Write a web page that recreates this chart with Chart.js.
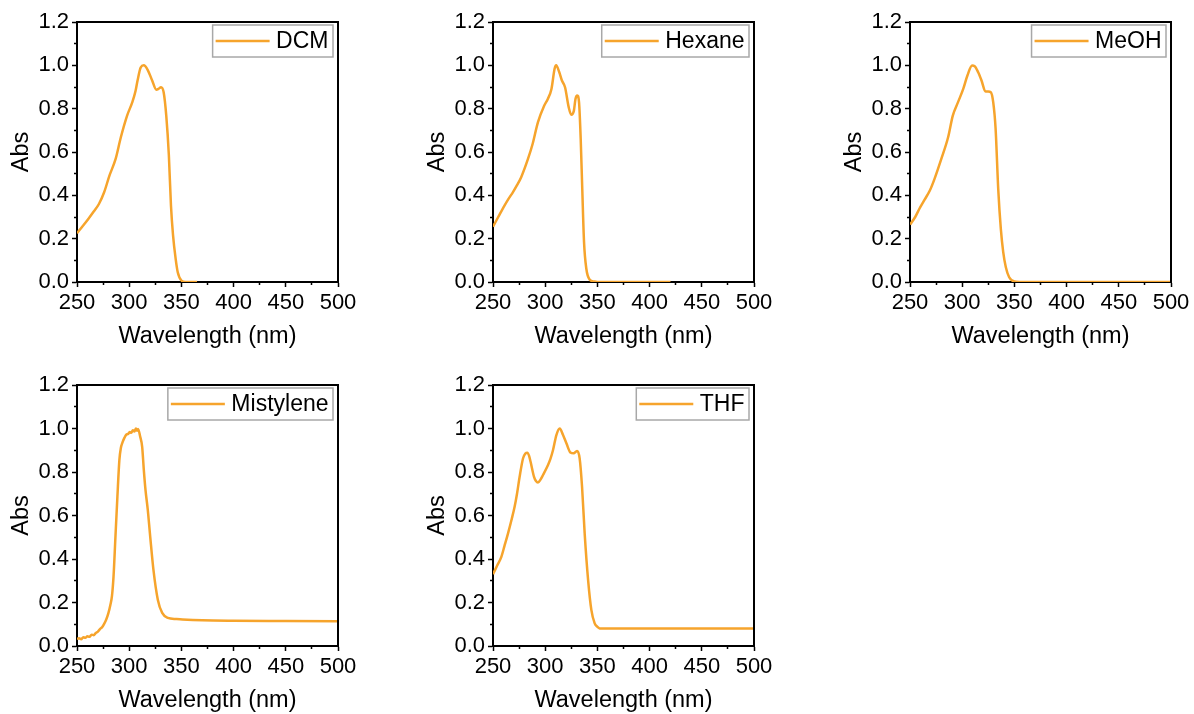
<!DOCTYPE html>
<html><head><meta charset="utf-8">
<script src="https://cdn.jsdelivr.net/npm/chart.js@4/dist/chart.umd.min.js"></script>
<style>
html,body{margin:0;padding:0;background:#fff;overflow:hidden;width:1194px;height:714px;position:relative}
canvas{position:absolute}
</style></head><body>
<script>
// ---- data (wavelength in nm, absorbance normalised) ----
const dcmLabel = 'DCM';
const dcmWl  = [250,255,261,266,271,276,281,287,292,298,303,306,308,311,314,318,322,326,328,330.5,333,335.5,338,340,342,344.5,346.5,350,354,365];
const dcmAbs = [0.225,0.255,0.292,0.325,0.36,0.414,0.49,0.568,0.668,0.768,0.83,0.88,0.93,0.99,1.0,0.976,0.93,0.887,0.891,0.899,0.876,0.768,0.584,0.353,0.215,0.107,0.045,0.007,0.0,0.0];

const hexLabel = 'Hexane';
const hexWl  = [250,255,261,265,269,273,277,283.5,288,293,299,302.5,306,309,310.5,313.5,316,319,322.5,325,327.5,329,330.7,332.4,334,335.5,337.2,339.4,342.5,347,350,420];
const hexAbs = [0.255,0.30,0.353,0.385,0.414,0.447,0.484,0.568,0.638,0.737,0.814,0.845,0.891,0.984,1.0,0.968,0.93,0.899,0.807,0.772,0.791,0.845,0.861,0.83,0.661,0.43,0.184,0.061,0.012,0.002,0.0,0.0];

const meohLabel = 'MeOH';
const meohWl  = [250,255,259,264,269,273.5,280,286.5,291,296,301,305,309.5,312,315.3,318.5,322.3,325,327.4,329.7,332,334.5,337,339.3,341.8,345,350,355,500];
const meohAbs = [0.265,0.30,0.338,0.38,0.422,0.476,0.568,0.668,0.768,0.83,0.891,0.953,0.999,0.996,0.968,0.93,0.879,0.879,0.876,0.83,0.707,0.43,0.245,0.138,0.068,0.022,0.002,0.0,0.0];

const misLabel = 'Mistylene';
const misWl  = [250,252,254,256,258,260,262,264,266,268,270,272,274,276,278,280,282,283.5,285,286.8,288.7,290.6,292,293.5,295.5,297,299,300.5,302,303.5,305,306.5,307.5,308.5,310.5,312.4,314,315.6,317.8,320.1,323.2,327.4,331.6,337,345,351,370,400,450,500];
const misAbs = [0.032,0.036,0.031,0.040,0.038,0.045,0.042,0.052,0.050,0.060,0.066,0.078,0.086,0.102,0.122,0.150,0.190,0.230,0.32,0.50,0.687,0.856,0.91,0.935,0.958,0.971,0.975,0.984,0.980,0.992,0.986,1.0,0.99,0.998,0.963,0.917,0.81,0.718,0.626,0.504,0.351,0.213,0.152,0.129,0.124,0.122,0.118,0.116,0.115,0.114];

const thfLabel = 'THF';
const thfWl  = [250,254,258,261,264.4,268,270.7,273,275.5,278.8,281,282.9,284.5,286,289.3,291,293.1,295.5,297.9,302.7,305,307.5,310.7,313.9,317.1,320.3,324.1,327.3,330.5,333,335.3,337.8,341.1,344.2,347.4,350,352.2,358.6,500];
const thfAbs = [0.33,0.37,0.41,0.46,0.518,0.585,0.64,0.70,0.778,0.863,0.885,0.889,0.875,0.847,0.778,0.76,0.752,0.765,0.786,0.832,0.86,0.901,0.97,1.0,0.97,0.932,0.89,0.886,0.897,0.863,0.732,0.518,0.303,0.166,0.104,0.088,0.081,0.08,0.08];

// ---- axes ----
const xMin = 250, xMax = 500, xStep = 25, xLabelEvery = 50;
const yMin = 0, yMax = 1.2, yStep = 0.1;
const xTitle = 'Wavelength (nm)';
const yTitle = 'Abs';

const lineColor = '#F6A42C';
const FONT = "'Liberation Sans', Arial, sans-serif";

const frameLegend = {
  id: 'frameLegend',
  afterDatasetsDraw(chart) {
    const ctx = chart.ctx, a = chart.chartArea;
    ctx.save();
    ctx.strokeStyle = '#000'; ctx.lineWidth = 2;
    ctx.beginPath();
    ctx.moveTo(a.left, a.top); ctx.lineTo(a.right, a.top); ctx.lineTo(a.right, a.bottom);
    ctx.stroke();
    const ds = chart.data.datasets[0];
    ctx.font = '23px ' + FONT;
    const tw = ctx.measureText(ds.label).width;
    const padL = 3, lineLen = 54, gap = 6.5, padR = 4.5, h = 32;
    const w = padL + lineLen + gap + tw + padR;
    const bx = a.right - 5 - w, by = a.top + 3;
    ctx.fillStyle = '#fff'; ctx.fillRect(bx, by, w, h);
    ctx.strokeStyle = '#a8a8a8'; ctx.lineWidth = 1.5; ctx.strokeRect(bx, by, w, h);
    ctx.strokeStyle = ds.borderColor; ctx.lineWidth = 2.5;
    ctx.beginPath(); ctx.moveTo(bx + padL, by + h / 2); ctx.lineTo(bx + padL + lineLen, by + h / 2); ctx.stroke();
    ctx.fillStyle = '#000'; ctx.textBaseline = 'middle'; ctx.textAlign = 'left';
    ctx.fillText(ds.label, bx + padL + lineLen + gap, by + h / 2 + 1);
    ctx.restore();
  }
};

function panel(left, top, plotH, label, wl, abs) {
  const cv = document.createElement('canvas');
  const W = 77 + 261 + 25, H = 22 + plotH + 75;
  cv.width = W; cv.height = H;
  cv.style.left = left + 'px'; cv.style.top = top + 'px';
  cv.style.width = W + 'px'; cv.style.height = H + 'px';
  document.body.appendChild(cv);
  new Chart(cv, {
    type: 'line',
    data: { datasets: [{
      label: label,
      data: wl.map((x, i) => ({ x: x, y: abs[i] })),
      borderColor: lineColor, borderWidth: 2.5, pointRadius: 0, fill: false,
      cubicInterpolationMode: 'monotone'
    }]},
    options: {
      responsive: false, animation: false, devicePixelRatio: 1,
      layout: { padding: { left: 0, top: 22, right: 25, bottom: 0 } },
      plugins: { legend: { display: false }, tooltip: { enabled: false } },
      scales: {
        x: {
          type: 'linear', position: 'bottom', min: xMin, max: xMax,
          afterFit(s) { s.height = 75; },
          ticks: { stepSize: xStep, autoSkip: false, maxRotation: 0, padding: 3, color: '#000',
            font: { family: FONT, size: 22 },
            callback: v => (Math.round(v) % xLabelEvery === 0) ? String(Math.round(v)) : '' },
          grid: { drawOnChartArea: false, drawTicks: true, tickLength: 5, tickWidth: 1.5, tickColor: '#000',
            tickBorderDash: c => (c.tick && Math.round(c.tick.value) % xLabelEvery !== 0) ? [2, 2] : [] },
          border: { display: true, color: '#000', width: 2 },
          title: { display: true, text: xTitle, color: '#000', font: { family: FONT, size: 23.5 }, padding: { top: 0, bottom: 6 } }
        },
        y: {
          type: 'linear', position: 'left', min: yMin, max: yMax,
          afterFit(s) { s.width = 77; },
          ticks: { stepSize: yStep, autoSkip: false, padding: 3, color: '#000',
            font: { family: FONT, size: 22 },
            callback: v => (Math.round(v * 10) % 2 === 0) ? v.toFixed(1) : '' },
          grid: { drawOnChartArea: false, drawTicks: true, tickLength: 5, tickWidth: 1.5, tickColor: '#000',
            tickBorderDash: c => (c.tick && Math.round(c.tick.value * 10) % 2 !== 0) ? [2, 2] : [],
            tickBorderDashOffset: c => (c.tick && Math.round(c.tick.value * 10) % 2 !== 0) ? 2 : 0 },
          border: { display: true, color: '#000', width: 2 },
          title: { display: true, text: yTitle, color: '#000', font: { family: FONT, size: 23.5 }, padding: { top: 7, bottom: 0 } }
        }
      }
    },
    plugins: [frameLegend]
  });
}

panel(0,   0, 260, dcmLabel, dcmWl, dcmAbs);
panel(416, 0, 260, hexLabel, hexWl, hexAbs);
panel(833, 0, 260, meohLabel, meohWl, meohAbs);
panel(0,   363, 261, misLabel, misWl, misAbs);
panel(416, 363, 261, thfLabel, thfWl, thfAbs);
</script>
</body></html>
